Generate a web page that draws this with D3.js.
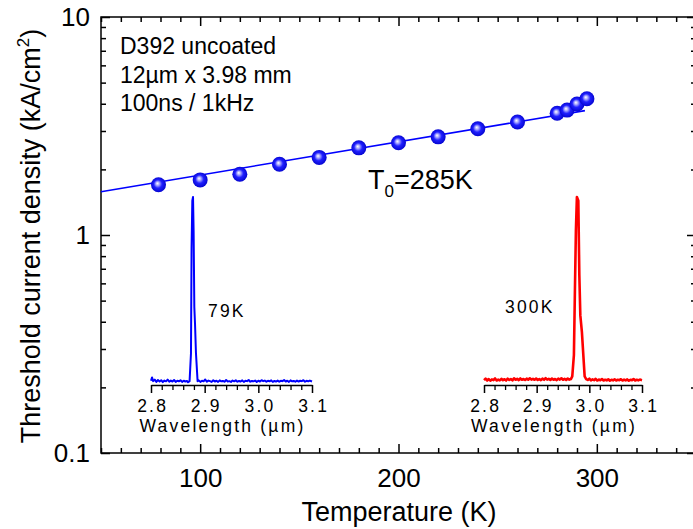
<!DOCTYPE html>
<html>
<head>
<meta charset="utf-8">
<script src="https://cdn.jsdelivr.net/npm/d3@7/dist/d3.min.js"></script>
<style>
  html, body { margin: 0; padding: 0; background: #fff; }
  svg { display: block; font-family: "Liberation Sans", Arial, sans-serif; }
</style>
</head>
<body>
<svg id="chart" width="693" height="529"></svg>
<script>
// Threshold current density vs. temperature
const temperatures = [79, 100, 120, 140, 160, 180, 200, 220, 240, 260, 280, 285, 290, 295];
const thresholdJ   = [1.70, 1.79, 1.90, 2.11, 2.27, 2.51, 2.65, 2.82, 3.07, 3.30, 3.62, 3.74, 3.99, 4.22];

// exponential fit J = J0 exp(T/T0), T0 = 285 K  (end points of the fit line)
const fitT = [50, 294];
const fitJ = [1.58, 3.72];
const fitLabel = { main: "T", sub: "0", rest: "=285K" };

const xTicks = [100, 200, 300];
const yTicks = [0.1, 1, 10];
const yTickLabels = ["0.1", "1", "10"];

const infoLines = ["D392 uncoated", "12\u00b5m x 3.98 mm", "100ns / 1kHz"];

// emission spectra (normalised intensity) at 79 K and 300 K
const spec79 = [
  [2.800,0.012],[2.802,0.030],[2.804,0.010],[2.807,0.018],[2.810,0.006],[2.813,0.016],[2.816,0.008],
  [2.819,0.015],[2.822,0.005],[2.825,0.013],[2.828,0.009],[2.831,0.018],[2.834,0.007],[2.837,0.013],
  [2.840,0.008],[2.843,0.016],[2.846,0.006],[2.849,0.012],[2.852,0.009],[2.855,0.015],[2.858,0.006],
  [2.861,0.012],[2.864,0.008],[2.867,0.011],[2.869,0.004],[2.8719,0.010],[2.8745,0.16],[2.8756,0.73],
  [2.8770,0.98],[2.8783,1.00],[2.8794,0.82],[2.8807,0.41],[2.8820,0.32],[2.8838,0.16],[2.8868,0.01],
  [2.889,0.014],[2.892,0.006],[2.895,0.012],[2.898,0.009],[2.901,0.019],[2.904,0.007],[2.907,0.013],
  [2.910,0.010],[2.913,0.006],[2.916,0.015],[2.919,0.008],[2.922,0.012],[2.925,0.006],[2.928,0.014],
  [2.931,0.009],[2.934,0.011],[2.937,0.007],[2.940,0.016],[2.943,0.008],[2.946,0.010],[2.949,0.006],
  [2.952,0.013],[2.955,0.009],[2.958,0.015],[2.961,0.007],[2.964,0.011],[2.967,0.008],[2.970,0.014],
  [2.973,0.006],[2.976,0.012],[2.979,0.010],[2.982,0.016],[2.985,0.007],[2.988,0.011],[2.991,0.009],
  [2.994,0.013],[2.997,0.006],[3.000,0.012],[3.003,0.008],[3.006,0.015],[3.009,0.010],[3.012,0.013],
  [3.015,0.007],[3.018,0.012],[3.021,0.009],[3.024,0.014],[3.027,0.006],[3.030,0.011],[3.033,0.008],
  [3.036,0.013],[3.039,0.007],[3.042,0.012],[3.045,0.010],[3.048,0.016],[3.051,0.008],[3.054,0.012],
  [3.057,0.006],[3.060,0.014],[3.063,0.009],[3.066,0.011],[3.069,0.007],[3.072,0.013],[3.075,0.008],
  [3.078,0.012],[3.081,0.010],[3.084,0.015],[3.087,0.007],[3.090,0.012],[3.093,0.009],[3.096,0.013],
  [3.100,0.008]
];
const spec300 = [
  [2.800,0.010],[2.803,0.018],[2.806,0.008],[2.809,0.016],[2.812,0.007],[2.815,0.014],[2.818,0.010],
  [2.821,0.019],[2.824,0.008],[2.827,0.013],[2.830,0.009],[2.833,0.017],[2.836,0.010],[2.839,0.015],
  [2.842,0.008],[2.845,0.018],[2.848,0.011],[2.851,0.016],[2.854,0.009],[2.857,0.020],[2.860,0.012],
  [2.863,0.017],[2.866,0.010],[2.869,0.019],[2.872,0.012],[2.875,0.016],[2.878,0.011],[2.881,0.018],
  [2.884,0.012],[2.887,0.020],[2.890,0.013],[2.893,0.017],[2.896,0.012],[2.899,0.019],[2.902,0.011],
  [2.905,0.016],[2.908,0.010],[2.911,0.018],[2.914,0.012],[2.917,0.021],[2.920,0.013],[2.923,0.017],
  [2.926,0.011],[2.929,0.019],[2.932,0.012],[2.935,0.016],[2.938,0.010],[2.941,0.018],[2.944,0.013],
  [2.947,0.020],[2.950,0.012],[2.953,0.017],[2.956,0.011],[2.959,0.019],[2.962,0.013],[2.965,0.016],
  [2.9676,0.03],[2.9707,0.145],[2.9726,0.49],[2.9745,0.82],[2.9764,1.00],[2.9791,0.98],[2.9810,0.58],
  [2.9829,0.36],[2.9859,0.27],[2.9886,0.145],[2.9911,0.03],[2.994,0.016],[2.997,0.011],[3.000,0.018],
  [3.003,0.009],[3.006,0.014],[3.009,0.010],[3.012,0.017],[3.015,0.008],[3.018,0.013],[3.021,0.010],
  [3.024,0.016],[3.027,0.008],[3.030,0.012],[3.033,0.009],[3.036,0.015],[3.039,0.007],[3.042,0.012],
  [3.045,0.009],[3.048,0.014],[3.051,0.008],[3.054,0.012],[3.057,0.010],[3.060,0.015],[3.063,0.008],
  [3.066,0.013],[3.069,0.009],[3.072,0.014],[3.075,0.007],[3.078,0.012],[3.081,0.010],[3.084,0.016],
  [3.087,0.008],[3.090,0.012],[3.093,0.009],[3.096,0.013],[3.100,0.010]
];
const insetTicks = [2.8, 2.9, 3.0, 3.1];
const insetMinor = [2.82, 2.84, 2.86, 2.88, 2.92, 2.94, 2.96, 2.98, 3.02, 3.04, 3.06, 3.08];

const svg = d3.select("#chart");

// main scales
const x = d3.scaleLinear().domain([50, 350]).range([101, 696]);
const y = d3.scaleLog().domain([0.1, 10]).range([453, 17]);

const xMinor = d3.range(50, 351, 10).filter(v => !xTicks.includes(v));
const yMinor = [];
[0.1, 1].forEach(d => { for (let k = 2; k <= 9; k++) yMinor.push(+(d * k).toFixed(2)); });

const axisColor = "#000";
function styleAxis(g) {
  g.select(".domain").remove();
  g.selectAll(".tick line").attr("stroke", axisColor).attr("stroke-width", 1.5);
}

// ticks on all four sides, pointing inward
svg.append("g").attr("transform", `translate(0,${y(0.1)})`)
  .call(d3.axisBottom(x).tickValues(xTicks).tickSize(-9).tickPadding(15).tickFormat(d3.format("d")))
  .call(styleAxis)
  .call(g => g.selectAll("text").attr("font-size", 26).attr("fill", "#000")
    .attr("font-family", "Liberation Sans, Arial, sans-serif").attr("y", 33.5).attr("dy", 0));
svg.append("g").attr("transform", `translate(0,${y(0.1)})`)
  .call(d3.axisBottom(x).tickValues(xMinor).tickSize(-5).tickFormat(""))
  .call(styleAxis);
svg.append("g").attr("transform", `translate(0,${y(10)})`)
  .call(d3.axisTop(x).tickValues(xTicks).tickSize(-9).tickFormat(""))
  .call(styleAxis);
svg.append("g").attr("transform", `translate(0,${y(10)})`)
  .call(d3.axisTop(x).tickValues(xMinor).tickSize(-5).tickFormat(""))
  .call(styleAxis);

svg.append("g").attr("transform", `translate(${x(50)},0)`)
  .call(d3.axisLeft(y).tickValues(yTicks).tickSize(-9).tickPadding(11)
    .tickFormat((d, i) => yTickLabels[i]))
  .call(styleAxis)
  .call(g => g.selectAll("text").attr("font-size", 26).attr("fill", "#000")
    .attr("font-family", "Liberation Sans, Arial, sans-serif").attr("x", -11));
svg.append("g").attr("transform", `translate(${x(50)},0)`)
  .call(d3.axisLeft(y).tickValues(yMinor).tickSize(-5).tickFormat(""))
  .call(styleAxis);
svg.append("g").attr("transform", `translate(${x(350)},0)`)
  .call(d3.axisRight(y).tickValues(yTicks).tickSize(-9).tickFormat(""))
  .call(styleAxis);
svg.append("g").attr("transform", `translate(${x(350)},0)`)
  .call(d3.axisRight(y).tickValues(yMinor).tickSize(-5).tickFormat(""))
  .call(styleAxis);

// frame
svg.append("rect")
  .attr("x", x(50)).attr("y", y(10))
  .attr("width", x(350) - x(50)).attr("height", y(0.1) - y(10))
  .attr("fill", "none").attr("stroke", axisColor).attr("stroke-width", 1.5);

// axis titles
svg.append("text")
  .attr("x", 399).attr("y", 521)
  .attr("text-anchor", "middle").attr("font-size", 27).attr("fill", "#000")
  .text("Temperature (K)");

const yTitle = svg.append("text")
  .attr("transform", "translate(40,236) rotate(-90)")
  .attr("text-anchor", "middle").attr("font-size", 27).attr("fill", "#000");
yTitle.append("tspan").text("Threshold current density (kA/cm");
yTitle.append("tspan").attr("font-size", 17).attr("dy", -11).text("2");
yTitle.append("tspan").attr("dy", 11).text(")");

// info text block
svg.append("g").selectAll("text").data(infoLines).join("text")
  .attr("x", 120).attr("y", (d, i) => 54 + i * 28.5)
  .attr("font-size", 23).attr("fill", "#000")
  .text(d => d);

// sphere marker gradient
const defs = svg.append("defs");
const grad = defs.append("radialGradient").attr("id", "ball")
  .attr("cx", "50%").attr("cy", "50%").attr("r", "55%").attr("fx", "42%").attr("fy", "40%");
grad.append("stop").attr("offset", "0%").attr("stop-color", "#ffffff");
grad.append("stop").attr("offset", "22%").attr("stop-color", "#a8a8ff");
grad.append("stop").attr("offset", "50%").attr("stop-color", "#2020ff");
grad.append("stop").attr("offset", "100%").attr("stop-color", "#0000c8");

// fit line
const fitData = fitT.map((t, i) => [t, fitJ[i]]);
svg.append("path")
  .datum(fitData)
  .attr("d", d3.line().x(d => x(d[0])).y(d => y(d[1])))
  .attr("fill", "none").attr("stroke", "#0000ff").attr("stroke-width", 1.6);

// data points
svg.append("g").selectAll("circle")
  .data(temperatures.map((t, i) => [t, thresholdJ[i]]))
  .join("circle")
  .attr("cx", d => x(d[0])).attr("cy", d => y(d[1])).attr("r", 7.5)
  .attr("fill", "url(#ball)");

// T0 label
const t0 = svg.append("text").attr("x", 368).attr("y", 189).attr("font-size", 27).attr("fill", "#000");
t0.append("tspan").text(fitLabel.main);
t0.append("tspan").attr("font-size", 17).attr("dy", 8).text(fitLabel.sub);
t0.append("tspan").attr("dy", -8).text(fitLabel.rest);

// spectrum insets
const insetFont = 17.5, insetSpacing = 2.2;
function inset(data, color, width, x0, x1, yBase, yTop, label, lx, ly) {
  const ix = d3.scaleLinear().domain([2.8, 3.1]).range([x0, x1]);
  const iy = d3.scaleLinear().domain([0, 1]).range([yBase, yTop]);
  const g = svg.append("g");
  const axisY = 385;
  g.append("g").attr("transform", `translate(0,${axisY})`)
    .call(d3.axisBottom(ix).tickValues(insetMinor).tickSize(5).tickFormat("").tickSizeOuter(0))
    .call(a => a.select(".domain").remove())
    .call(a => a.selectAll(".tick line").attr("stroke", "#000").attr("stroke-width", 1.3));
  g.append("g").attr("transform", `translate(0,${axisY})`)
    .call(d3.axisBottom(ix).tickValues(insetTicks).tickSize(8).tickSizeOuter(0).tickFormat(d3.format(".1f")))
    .call(a => a.select(".domain").attr("stroke", "#000").attr("stroke-width", 1.5))
    .call(a => a.selectAll(".tick line").attr("stroke", "#000").attr("stroke-width", 1.5))
    .call(a => a.selectAll("text").attr("font-size", insetFont).attr("fill", "#000")
      .attr("font-family", "Liberation Sans, Arial, sans-serif")
      .attr("letter-spacing", insetSpacing).attr("dx", insetSpacing / 2).attr("y", 27).attr("dy", 0));
  g.append("text")
    .attr("x", (x0 + x1) / 2 - 9).attr("y", 432)
    .attr("text-anchor", "middle").attr("font-size", insetFont).attr("letter-spacing", insetSpacing)
    .attr("fill", "#000").text("Wavelength (\u00b5m)");
  g.append("path").datum(data)
    .attr("d", d3.line().x(d => ix(d[0])).y(d => iy(d[1])))
    .attr("fill", "none").attr("stroke", color).attr("stroke-width", width)
    .attr("stroke-linejoin", "round");
  g.append("text").attr("x", lx).attr("y", ly)
    .attr("font-size", insetFont).attr("letter-spacing", insetSpacing).attr("fill", "#000").text(label);
}
inset(spec79, "#0000ff", 2, 151, 312, 383, 197, "79K", 208, 317);
inset(spec300, "#ff0000", 2.6, 484, 642, 382, 197, "300K", 505, 313);
</script>
</body>
</html>
